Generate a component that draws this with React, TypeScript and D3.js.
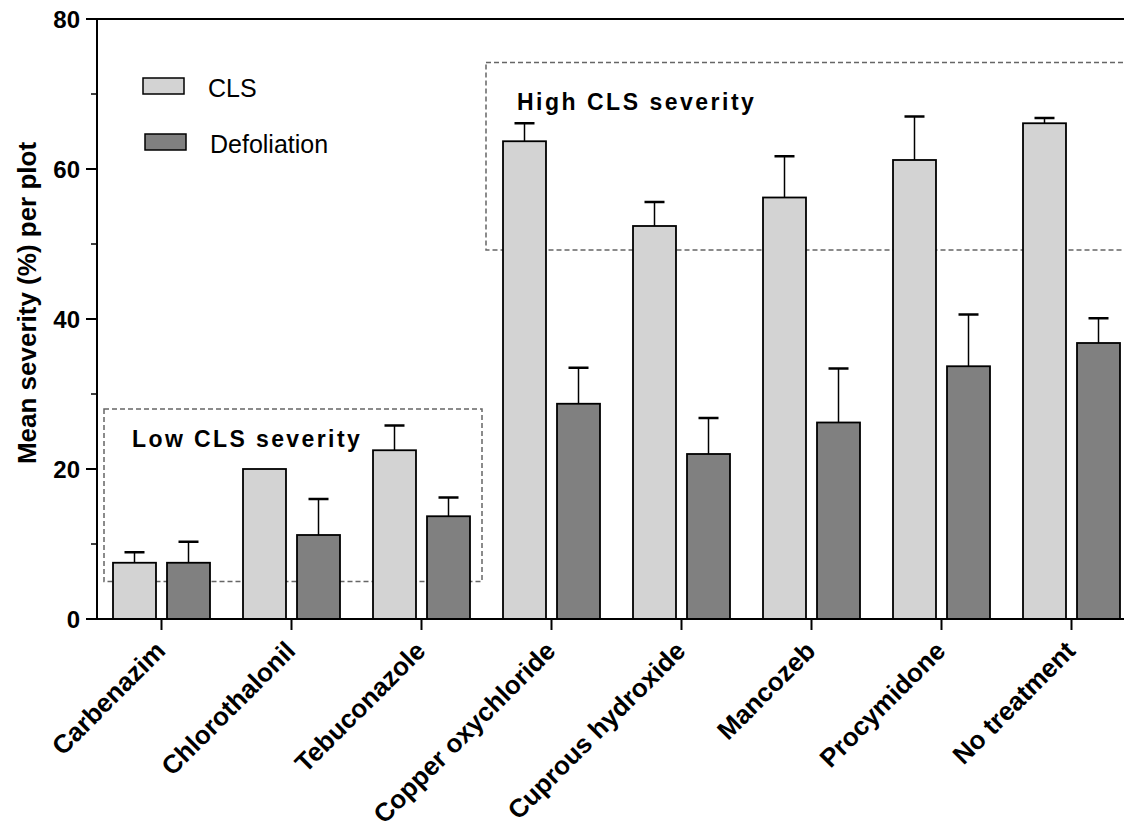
import React from "react";
import * as d3 from "d3";

const categories = ["Carbenazim", "Chlorothalonil", "Tebuconazole", "Copper oxychloride", "Cuprous hydroxide", "Mancozeb", "Procymidone", "No treatment"];
const clsMean = [7.5, 20.0, 22.5, 63.7, 52.4, 56.2, 61.2, 66.1];
const clsErr = [1.4, 0, 3.3, 2.4, 3.2, 5.5, 5.8, 0.7];
const defMean = [7.5, 11.2, 13.7, 28.7, 22.0, 26.2, 33.7, 36.8];
const defErr = [2.8, 4.8, 2.5, 4.8, 4.8, 7.2, 6.9, 3.3];
const seriesNames = ["CLS", "Defoliation"];
const seriesColors = ["#d3d3d3", "#808080"];
const yMajorTicks = [0, 20, 40, 60, 80];
const yMinorTicks = [10, 30, 50, 70];
const lowBox = { y0: 5, y1: 28, label: "Low CLS severity" };
const highBox = { y0: 49.2, y1: 74.2, label: "High CLS severity" };

export default function App() {
  const W = 1124, H = 830;
  const axisX = 97;
  const y = d3.scaleLinear().domain([0, 80]).range([619, 19]);
  const x = d3.scaleBand<string>().domain(categories).range([96.5, 96.5 + 130 * categories.length]).padding(0);
  const inner = d3.scaleBand<string>().domain(seriesNames).range([0, x.bandwidth()]).paddingInner(0.204).paddingOuter(0.3056);
  const bw = inner.bandwidth();
  const font = "Arial, 'Liberation Sans', sans-serif";
  const data = [
    { name: seriesNames[0], mean: clsMean, err: clsErr, color: seriesColors[0] },
    { name: seriesNames[1], mean: defMean, err: defErr, color: seriesColors[1] },
  ];
  const capW = 20;
  return (
    <svg width={W} height={H} style={{ position: "absolute", left: 0, top: 0, background: "#fff" }} fontFamily={font}>
      {/* boxes */}
      <rect x={104} y={y(lowBox.y1)} width={482 - 104} height={y(lowBox.y0) - y(lowBox.y1)} fill="none" stroke="#666" strokeWidth={1.5} strokeDasharray="5,3" />
      <rect x={486} y={y(highBox.y1)} width={700} height={y(highBox.y0) - y(highBox.y1)} fill="none" stroke="#666" strokeWidth={1.5} strokeDasharray="5,3" />
      {/* bars */}
      {data.map((s) =>
        categories.map((c, i) => {
          const bx = (x(c) as number) + (inner(s.name) as number);
          const cx = bx + bw / 2;
          const top = y(s.mean[i]);
          return (
            <g key={s.name + c}>
              {s.err[i] > 0 && (
                <g>
                  <line x1={cx} x2={cx} y1={top} y2={y(s.mean[i] + s.err[i])} stroke="#000" strokeWidth={1.5} />
                  <line x1={cx - capW / 2} x2={cx + capW / 2} y1={y(s.mean[i] + s.err[i])} y2={y(s.mean[i] + s.err[i])} stroke="#000" strokeWidth={2.5} />
                </g>
              )}
              <rect x={bx} y={top} width={bw} height={y(0) - top} fill={s.color} stroke="#000" strokeWidth={1.8} />
            </g>
          );
        })
      )}
      {/* box labels */}
      <text x={132} y={447} fontSize={23} fontWeight="bold" letterSpacing={2.4}>{lowBox.label}</text>
      <text x={517} y={110} fontSize={23} fontWeight="bold" letterSpacing={2.5}>{highBox.label}</text>
      {/* axes */}
      <line x1={axisX} x2={axisX} y1={y(80)} y2={y(0)} stroke="#000" strokeWidth={2} />
      <line x1={axisX} x2={W} y1={y(80)} y2={y(80)} stroke="#000" strokeWidth={2} />
      <line x1={90} x2={W} y1={y(0)} y2={y(0)} stroke="#000" strokeWidth={2} />
      {yMajorTicks.map((t) => (
        <g key={"M" + t}>
          <line x1={axisX - 11} x2={axisX} y1={y(t)} y2={y(t)} stroke="#000" strokeWidth={2} />
          <text x={80} y={y(t)} dy="0.36em" textAnchor="end" fontSize={24} fontWeight="bold">{t}</text>
        </g>
      ))}
      {yMinorTicks.map((t) => (
        <line key={"m" + t} x1={axisX - 6} x2={axisX} y1={y(t)} y2={y(t)} stroke="#000" strokeWidth={1.5} />
      ))}
      {categories.map((c) => {
        const cx = (x(c) as number) + x.bandwidth() / 2;
        return (
          <g key={"x" + c}>
            <line x1={cx} x2={cx} y1={y(0)} y2={y(0) + 11} stroke="#000" strokeWidth={2} />
            <text transform={`translate(${cx - 1},${y(0) + 27}) rotate(-45)`} textAnchor="end" fontSize={26} fontWeight="bold" dy="0.35em">{c}</text>
          </g>
        );
      })}
      <text transform={`translate(27,303) rotate(-90)`} textAnchor="middle" fontSize={26} fontWeight="bold" dy="0.35em">Mean severity (%) per plot</text>
      {/* legend */}
      {seriesNames.map((n, i) => (
        <g key={"l" + n}>
          <rect x={143 + i * 2} y={78 + i * 56} width={41} height={16} fill={seriesColors[i]} stroke="#000" strokeWidth={1.5} />
          <text x={208 + i * 2} y={97 + i * 56} fontSize={25}>{n}</text>
        </g>
      ))}
    </svg>
  );
}
